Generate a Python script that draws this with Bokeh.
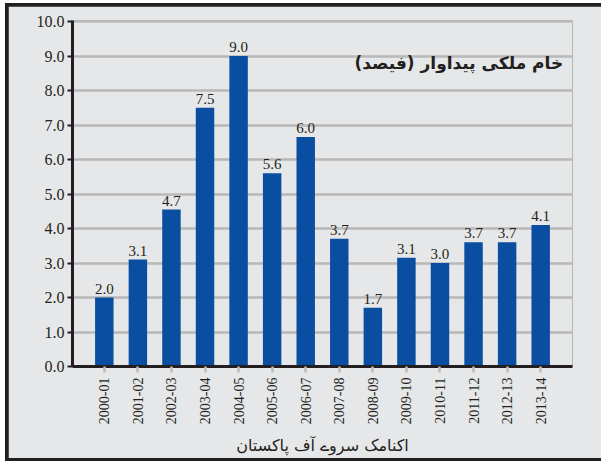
from bokeh.plotting import figure
from bokeh.layouts import column
from bokeh.models import (FactorRange, Range1d, ColumnDataSource, LabelSet, Label,
                          FixedTicker, PrintfTickFormatter)
from bokeh.embed import file_html
from bokeh.resources import INLINE

years = ["2000-01", "2001-02", "2002-03", "2003-04", "2004-05", "2005-06", "2006-07",
         "2007-08", "2008-09", "2009-10", "2010-11", "2011-12", "2012-13", "2013-14"]
bar_heights = [2.0, 3.1, 4.55, 7.5, 9.0, 5.6, 6.65, 3.7, 1.7, 3.15, 3.0, 3.6, 3.6, 4.1]
value_labels = ["2.0", "3.1", "4.7", "7.5", "9.0", "5.6", "6.0", "3.7", "1.7", "3.1",
                "3.0", "3.7", "3.7", "4.1"]
y_ticks = [0, 1, 2, 3, 4, 5, 6, 7, 8, 9, 10]
title_text = "خام ملکی پیداوار (فیصد)"
source_text = "اکنامک سروے آف پاکستان"

BG = "#e6e7e8"
BLUE = "#0a4ea1"
DARK = "#231f20"
GRID = "#b8b8b8"
SERIF = "Liberation Serif"

src = ColumnDataSource(dict(x=years, top=bar_heights, label=value_labels))

p = figure(width=593, height=452, output_backend="svg", toolbar_location=None,
           x_range=FactorRange(factors=years, range_padding=0.064),
           y_range=Range1d(0, 10.03),
           min_border_left=64, min_border_right=29, min_border_top=14, min_border_bottom=91)
p.background_fill_color = BG
p.border_fill_color = BG
p.outline_line_color = None

p.vbar(x="x", top="top", width=0.55, source=src, color=BLUE, line_color=None)

p.add_layout(LabelSet(x="x", y="top", text="label", source=src, y_offset=4,
                      text_align="center", text_baseline="bottom",
                      text_font=SERIF, text_font_size="15px", text_color=DARK))

# grid
p.xgrid.grid_line_color = None
p.ygrid.grid_line_color = GRID
p.ygrid.grid_line_width = 2.5
p.ygrid.ticker = FixedTicker(ticks=y_ticks)

# y axis
p.yaxis.ticker = FixedTicker(ticks=y_ticks)
p.yaxis.formatter = PrintfTickFormatter(format="%.1f")
p.yaxis.axis_line_color = DARK
p.yaxis.axis_line_width = 3
p.yaxis.major_tick_line_color = DARK
p.yaxis.major_tick_line_width = 2
p.yaxis.major_tick_out = 5
p.yaxis.major_tick_in = 0
p.yaxis.minor_tick_line_color = None
p.yaxis.major_label_text_font = SERIF
p.yaxis.major_label_text_font_size = "16px"
p.yaxis.major_label_text_color = DARK
p.yaxis.major_label_standoff = 3

# x axis
p.xaxis.axis_line_color = DARK
p.xaxis.axis_line_width = 3
p.xaxis.major_tick_line_color = "#bdbdbd"
p.xaxis.major_tick_line_width = 2.5
p.xaxis.major_tick_out = 6
p.xaxis.major_tick_in = 0
p.xaxis.major_label_orientation = 1.5708
p.xaxis.major_label_text_font = SERIF
p.xaxis.major_label_text_font_size = "14px"
p.xaxis.major_label_text_color = DARK
p.xaxis.major_label_standoff = 5
p.xaxis.axis_label = source_text
p.xaxis.axis_label_text_font = "DejaVu Sans"
p.xaxis.axis_label_text_font_size = "16px"
p.xaxis.axis_label_text_font_style = "normal"
p.xaxis.axis_label_text_color = DARK
p.xaxis.axis_label_standoff = 9

p.add_layout(Label(x=14.17, y=8.79, text=title_text, text_align="right",
                   text_baseline="middle", text_font="DejaVu Sans",
                   text_font_size="17px", text_font_style="bold", text_color=DARK))

layout = column(p, styles={"padding": "3px 0 3px 3px", "margin": "3px 0 0 5px",
                           "background-color": DARK})

open("out.html", "w").write(file_html(layout, INLINE))
